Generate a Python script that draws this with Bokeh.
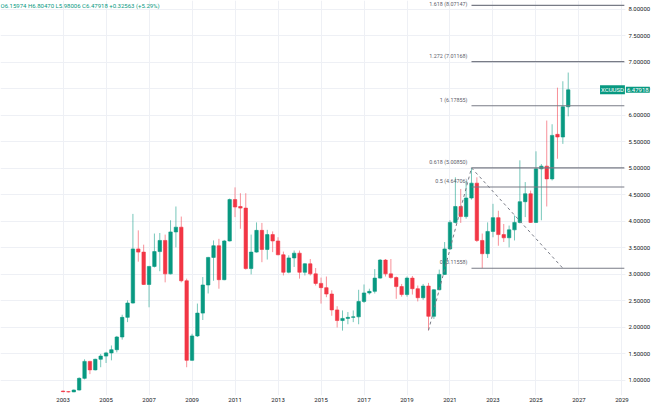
from bokeh.plotting import figure
from bokeh.models import (FixedTicker, PrintfTickFormatter, Label, Range1d,
                          ColumnDataSource, BoxAnnotation)
from bokeh.embed import file_html
from bokeh.resources import INLINE
from bokeh.core.properties import value

# ---------------- data (quarterly candles, XCUUSD) ----------------
first_year = 2003  # first candle = 2003 Q1
opens = [0.80, 0.79, 0.785, 0.82, 1.04, 1.36, 1.20, 1.40, 1.46, 1.52,
         1.58, 1.82, 2.19, 2.46, 3.48, 3.42, 2.81, 3.15, 3.43, 3.64,
         3.01, 3.80, 3.89, 2.88, 1.38, 1.84, 2.27, 2.80, 3.32, 3.54,
         2.90, 3.63, 4.41, 4.28, 4.25, 3.11, 3.42, 3.83, 3.47, 3.75,
         3.63, 3.37, 3.04, 3.31, 3.40, 3.04, 3.20, 3.01, 2.83, 2.75,
         2.63, 2.33, 2.13, 2.17, 2.19, 2.20, 2.49, 2.65, 2.68, 2.93,
         3.27, 3.01, 2.94, 2.77, 2.62, 2.93, 2.73, 2.56, 2.78, 2.21,
         2.71, 3.00, 3.48, 3.98, 4.28, 4.09, 4.44, 4.72, 3.64, 3.39,
         3.81, 4.07, 3.75, 3.69, 3.84, 3.98, 4.37, 4.52, 3.98, 4.99,
         5.04, 4.80, 5.64, 5.59, 6.15974]
highs = [0.81, 0.80, 0.83, 1.06, 1.40, 1.37, 1.41, 1.50, 1.54, 1.66,
         1.84, 2.24, 2.51, 4.14, 3.83, 3.56, 3.16, 3.77, 3.78, 3.75,
         4.02, 4.28, 4.09, 2.92, 1.88, 2.45, 2.95, 3.33, 3.64, 3.67,
         3.65, 4.43, 4.64, 4.53, 4.53, 3.75, 3.98, 3.97, 3.84, 3.81,
         3.70, 3.43, 3.36, 3.45, 3.45, 3.21, 3.29, 3.12, 2.94, 2.96,
         2.70, 2.40, 2.32, 2.29, 2.32, 2.71, 2.81, 2.73, 3.10, 3.29,
         3.29, 3.29, 2.96, 2.82, 2.96, 2.97, 2.79, 2.82, 2.84, 2.72,
         3.09, 3.61, 4.02, 4.83, 4.61, 4.76, 5.0085, 4.83, 3.77, 3.98,
         4.33, 4.20, 3.95, 3.92, 4.11, 5.15, 4.74, 4.58, 5.32, 5.08,
         5.90, 5.83, 6.52, 6.64, 6.80470]
lows = [0.78, 0.775, 0.78, 0.81, 1.02, 1.12, 1.19, 1.25, 1.33, 1.38,
        1.53, 1.77, 2.10, 2.45, 3.24, 2.80, 2.38, 3.13, 3.06, 2.85,
        3.00, 3.51, 2.85, 1.25, 1.37, 1.82, 2.14, 2.64, 2.88, 2.73,
        2.89, 3.62, 4.08, 3.86, 3.09, 3.00, 3.41, 3.23, 3.28, 3.42,
        3.36, 2.98, 3.02, 3.14, 2.92, 2.98, 2.98, 2.79, 2.45, 2.57,
        2.22, 2.00, 1.94, 2.06, 2.10, 2.06, 2.46, 2.62, 2.64, 2.92,
        2.96, 2.92, 2.54, 2.58, 2.58, 2.62, 2.49, 2.52, 1.9455, 2.16,
        2.70, 2.99, 3.46, 3.96, 3.97, 4.05, 4.41, 3.61, 3.1156, 3.31,
        3.70, 3.54, 3.61, 3.51, 3.64, 3.96, 4.08, 3.97, 3.97, 4.02,
        4.28, 4.77, 5.18, 5.46, 5.98006]
closes = [0.79, 0.785, 0.82, 1.04, 1.36, 1.20, 1.40, 1.46, 1.52, 1.58,
          1.82, 2.19, 2.46, 3.48, 3.42, 2.81, 3.15, 3.43, 3.64, 3.01,
          3.80, 3.89, 2.88, 1.38, 1.84, 2.27, 2.80, 3.32, 3.54, 2.90,
          3.63, 4.41, 4.27, 4.25, 3.11, 3.42, 3.83, 3.47, 3.75, 3.63,
          3.37, 3.04, 3.31, 3.40, 3.04, 3.20, 3.01, 2.83, 2.75, 2.63,
          2.33, 2.13, 2.17, 2.19, 2.20, 2.49, 2.65, 2.68, 2.93, 3.27,
          3.01, 2.94, 2.77, 2.62, 2.93, 2.73, 2.56, 2.78, 2.21, 2.71,
          3.00, 3.48, 3.98, 4.28, 4.09, 4.44, 4.72, 3.64, 3.39, 3.81,
          4.07, 3.75, 3.69, 3.84, 3.98, 4.37, 4.52, 3.98, 4.99, 5.04,
          4.80, 5.62, 5.59, 6.15974, 6.47918]

symbol = "XCUUSD"
last_price_text = "6.47918"
ohlc_legend = "O6.15974 H6.80470 L5.98006 C6.47918 +0.32563 (+5.29%)"

fib_levels = [3.11558, 4.64706, 5.00850, 6.17855, 7.01168, 8.07147]
fib_labels = ["0 (3.11558)", "0.5 (4.64706)", "0.618 (5.00850)",
              "1 (6.17855)", "1.272 (7.01168)", "1.618 (8.07147)"]
# trend points of the fib extension: 2020 Q1 low, 2022 Q1 high, third point
trend_quarters = ["2020Q1", "2022Q1", "2026Q2"]
trend_prices = [1.9455, 5.0085, 3.11558]

year_ticks = list(range(2003, 2030, 2))
price_ticks = [1.0 + 0.5 * k for k in range(15)]

# ---------------- derived ----------------
GREEN = "#089981"
RED = "#F23645"
FONT = "Roboto"

def qpos(label):
    y, q = label.split("Q")
    return int(y) + (int(q) - 1) * 0.25

t = [first_year + i * 0.25 for i in range(len(opens))]
up = [c >= o for o, c in zip(opens, closes)]
src = ColumnDataSource(dict(
    t=t, o=opens, h=highs, l=lows, c=closes,
    top=[max(o, c) for o, c in zip(opens, closes)],
    bot=[min(o, c) for o, c in zip(opens, closes)],
    col=[GREEN if u else RED for u in up],
))

x0, x1 = 2000.09, 2030.42     # frame spans the chart pane and the price scale
x_scale_edge = 2029.16        # boundary between chart pane and price scale
y0, y1 = 0.717, 8.163

p = figure(frame_width=652, frame_height=395, x_range=Range1d(x0, x1),
           y_range=Range1d(y0, y1),
           output_backend="svg", toolbar_location=None, y_axis_location="right",
           min_border_left=0, min_border_top=0, min_border_right=0, min_border_bottom=0)
p.background_fill_color = "white"
p.border_fill_color = "white"
p.outline_line_color = None

# grid
p.xgrid.ticker = FixedTicker(ticks=year_ticks)
p.ygrid.ticker = FixedTicker(ticks=price_ticks)
p.xgrid.grid_line_color = "#eef0f5"
p.ygrid.grid_line_color = "#eef0f5"

# axes
p.xaxis.ticker = FixedTicker(ticks=year_ticks)
p.yaxis.ticker = FixedTicker(ticks=price_ticks)
p.yaxis.formatter = PrintfTickFormatter(format="%.5f")
p.yaxis.fixed_location = x_scale_edge
for ax in (p.xaxis, p.yaxis):
    ax.axis_line_color = None
    ax.major_tick_line_color = None
    ax.minor_tick_line_color = None
    ax.major_tick_out = 0
    ax.major_tick_in = 0
    ax.minor_tick_out = 0
    ax.major_label_text_font = FONT
    ax.major_label_text_font_size = "6px"
    ax.major_label_text_color = "#131722"
p.yaxis.major_label_standoff = 3
p.xaxis.major_label_standoff = 2

# price-scale background (hides grid lines there)
p.add_layout(BoxAnnotation(left=x_scale_edge, fill_color="white", fill_alpha=1,
                           line_color=None, level="underlay"))

# candles
p.segment(x0="t", y0="h", x1="t", y1="l", source=src, line_color="col",
          line_alpha=0.55, line_width=1)
p.vbar(x="t", width=0.16, top="top", bottom="bot", source=src,
       fill_color="col", line_color="col", line_width=0.6)

# fib extension levels
fx = qpos(trend_quarters[1])
p.segment(x0=[fx] * len(fib_levels), y0=fib_levels,
          x1=[x_scale_edge - 0.05] * len(fib_levels), y1=fib_levels,
          line_color="#787b86", line_width=1.2)
# label of the top level sits lower so that it stays inside the pane
p.text(x=[fx] * len(fib_levels), y=fib_levels, text=fib_labels,
       text_align="right", text_baseline="middle", x_offset=-4,
       y_offset=[-6, -6, -6, -6, -6, -1.5],
       text_font=value(FONT), text_font_size="5.4px", text_color="#5d606b")

# trend lines
p.line(x=[qpos(q) for q in trend_quarters], y=trend_prices,
       line_color="#787b86", line_dash="3 3", line_width=1)

# price labels
p.add_layout(Label(x=x_scale_edge, y=closes[-1], text=last_price_text, text_align="left",
                   text_baseline="middle", x_offset=0.5, text_color="white",
                   text_font=FONT, text_font_size="6px",
                   background_fill_color=GREEN, padding=1))
p.add_layout(Label(x=x_scale_edge, y=closes[-1], text=symbol, text_align="right",
                   text_baseline="middle", x_offset=-0.5, text_color="white",
                   text_font=FONT, text_font_size="6px",
                   background_fill_color=GREEN, padding=1))

# OHLC legend
p.add_layout(Label(x=x0, y=y1 - 0.035, text=ohlc_legend, text_align="left",
                   text_baseline="top", text_color=GREEN,
                   text_font=FONT, text_font_size="6px"))

open("out.html", "w").write(file_html(p, INLINE))
